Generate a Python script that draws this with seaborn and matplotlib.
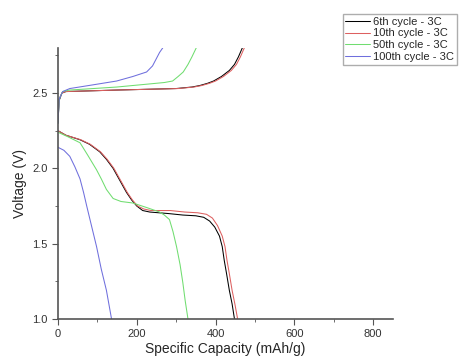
import seaborn as sns
import matplotlib.pyplot as plt
import pandas as pd
from matplotlib.ticker import MultipleLocator

# discharge / charge curves (capacity mAh/g, voltage V)
labels = ["6th cycle - 3C", "10th cycle - 3C", "50th cycle - 3C", "100th cycle - 3C"]
colors = ["black", "#dd6060", "#70dd70", "#6f6fdd"]

dis_6_cap = [0, 20, 56, 80, 106, 123, 140, 157, 174, 187, 200, 215, 233, 280, 317, 350, 370,
             385, 398, 410, 417, 422, 428, 435, 442, 448]
dis_6_v = [2.25, 2.22, 2.19, 2.16, 2.11, 2.06, 2.00, 1.92, 1.84, 1.79, 1.75, 1.72, 1.71, 1.70,
           1.69, 1.685, 1.675, 1.65, 1.61, 1.55, 1.48, 1.39, 1.30, 1.19, 1.10, 1.00]
dis_10_cap = [0, 20, 58, 82, 108, 125, 142, 159, 176, 189, 202, 218, 236, 285, 322, 355, 377,
              392, 405, 417, 424, 429, 435, 442, 449, 456]
dis_10_v = [2.25, 2.22, 2.19, 2.16, 2.11, 2.06, 2.00, 1.92, 1.84, 1.79, 1.75, 1.73, 1.72, 1.72,
            1.71, 1.705, 1.695, 1.67, 1.62, 1.55, 1.48, 1.39, 1.30, 1.19, 1.10, 1.00]
dis_50_cap = [0, 25, 56, 75, 98, 110, 123, 140, 160, 190, 225, 258, 270, 283, 292, 301, 310,
              317, 323, 330]
dis_50_v = [2.24, 2.21, 2.17, 2.09, 1.99, 1.93, 1.86, 1.80, 1.78, 1.77, 1.74, 1.71, 1.69, 1.66,
            1.58, 1.48, 1.36, 1.24, 1.12, 1.00]
dis_100_cap = [0, 15, 30, 43, 56, 65, 73, 85, 98, 110, 123, 136]
dis_100_v = [2.14, 2.12, 2.08, 2.01, 1.93, 1.84, 1.75, 1.62, 1.48, 1.33, 1.19, 1.00]

ch_6_cap = [0, 3, 10, 20, 150, 300, 340, 360, 380, 395, 415, 435, 448, 458, 468]
ch_6_v = [2.30, 2.45, 2.50, 2.51, 2.52, 2.53, 2.54, 2.55, 2.565, 2.58, 2.61, 2.65, 2.69, 2.74, 2.80]
ch_10_cap = [0, 3, 10, 20, 150, 305, 345, 365, 385, 400, 420, 440, 453, 463, 473]
ch_10_v = [2.32, 2.46, 2.50, 2.51, 2.52, 2.53, 2.54, 2.55, 2.565, 2.58, 2.61, 2.65, 2.69, 2.74, 2.80]
ch_50_cap = [0, 3, 12, 30, 149, 230, 270, 291, 305, 318, 330, 340, 351]
ch_50_v = [2.30, 2.46, 2.51, 2.52, 2.54, 2.56, 2.57, 2.58, 2.61, 2.64, 2.69, 2.74, 2.80]
ch_100_cap = [0, 3, 12, 30, 90, 149, 190, 225, 240, 250, 258, 266]
ch_100_v = [2.30, 2.46, 2.51, 2.53, 2.555, 2.58, 2.61, 2.64, 2.68, 2.73, 2.77, 2.80]

curves = [
    (labels[0], "dis", dis_6_cap, dis_6_v), (labels[0], "ch", ch_6_cap, ch_6_v),
    (labels[1], "dis", dis_10_cap, dis_10_v), (labels[1], "ch", ch_10_cap, ch_10_v),
    (labels[2], "dis", dis_50_cap, dis_50_v), (labels[2], "ch", ch_50_cap, ch_50_v),
    (labels[3], "dis", dis_100_cap, dis_100_v), (labels[3], "ch", ch_100_cap, ch_100_v),
]
rows = []
for name, step, caps, volts in curves:
    for c, v in zip(caps, volts):
        rows.append({"cycle": name, "step": step, "cap": c, "V": v})
df = pd.DataFrame(rows)

sns.set_style("ticks")
plt.rcParams['font.family'] = ['Liberation Sans', 'DejaVu Sans']

fig = plt.figure(figsize=(4.6, 3.6), dpi=100)
ax = fig.add_axes([0.126, 0.114, 0.728, 0.753])

sns.lineplot(data=df, x="cap", y="V", hue="cycle", units="step", estimator=None,
             sort=False, palette=colors, hue_order=labels, lw=0.75, ax=ax)

ax.set_xlim(0, 850)
ax.set_ylim(1.0, 2.8)
ax.xaxis.set_major_locator(MultipleLocator(200))
ax.xaxis.set_minor_locator(MultipleLocator(100))
ax.yaxis.set_major_locator(MultipleLocator(0.5))
ax.yaxis.set_minor_locator(MultipleLocator(0.25))
ax.set_xlabel("Specific Capacity (mAh/g)", fontsize=10, labelpad=2)
ax.set_ylabel("Voltage (V)", fontsize=10)
ax.tick_params(axis='both', which='major', labelsize=8, direction='out', length=4,
               color='#555555', labelcolor='#333333')
ax.tick_params(axis='both', which='minor', direction='out', length=2, color='#555555')
for s in ["top", "right"]:
    ax.spines[s].set_visible(False)
for s in ["left", "bottom"]:
    ax.spines[s].set_color('#555555')
    ax.spines[s].set_linewidth(1.2)

ax.legend(loc="upper left", bbox_to_anchor=(0.85, 1.125), fontsize=8, frameon=True,
          fancybox=False, edgecolor='#999999', handlelength=2.2, handletextpad=0.3,
          borderpad=0.25, labelspacing=0.15, borderaxespad=0)

fig.savefig("out.png", dpi=100)
